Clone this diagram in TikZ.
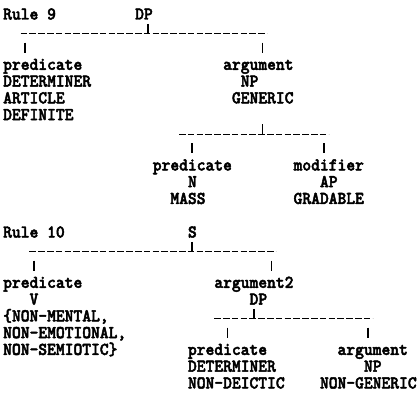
\documentclass[tikz,border=0pt]{standalone}
\usepackage{fontspec}
\newfontfamily\ttheavy{lmmonolt10-bold.otf}[FakeBold=2.5,FakeStretch=0.93]
\def\colw{8.8}
\def\lineh{16.77}
\newcommand\colx[1]{3+\colw*(#1)}
\newcommand\baseY[1]{19.5+\lineh*(#1)}
\newcommand\midY[1]{14+\lineh*(#1)}
\begin{document}
\begin{tikzpicture}[x=1pt,y=-1pt,
  lbl/.style={anchor=base west,inner sep=0pt,font=\ttheavy\fontsize{18}{19}\selectfont},
  bar/.style={line width=1.7pt},
  rowline/.style={line width=1.2pt,dash pattern=on 6.6pt off 2.2pt}]
\useasboundingbox (0,0) rectangle (419,420);
% ---------------- Rule 9 ----------------
\node[lbl] (r9)   at ({\colx{0}},{\baseY{0}})  {Rule 9};
\node[lbl] (dpa)  at ({\colx{15}},{\baseY{0}}) {DP};
\node[lbl] (preda) at ({\colx{0}},{\baseY{3}}) {predicate};
\node[lbl] (deta) at ({\colx{0}},{\baseY{4}})  {DETERMINER};
\node[lbl] (arta) at ({\colx{0}},{\baseY{5}})  {ARTICLE};
\node[lbl] (defa) at ({\colx{0}},{\baseY{6}})  {DEFINITE};
\node[lbl] (arga) at ({\colx{25}},{\baseY{3}}) {argument};
\node[lbl] (npa)  at ({\colx{27}},{\baseY{4}}) {NP};
\node[lbl] (gena) at ({\colx{26}},{\baseY{5}}) {GENERIC};
\node[lbl] (predb) at ({\colx{17}},{\baseY{9}}) {predicate};
\node[lbl] (nb)   at ({\colx{21}},{\baseY{10}}) {N};
\node[lbl] (massb) at ({\colx{19}},{\baseY{11}}) {MASS};
\node[lbl] (modb) at ({\colx{33}},{\baseY{9}}) {modifier};
\node[lbl] (apb)  at ({\colx{36}},{\baseY{10}}) {AP};
\node[lbl] (gradb) at ({\colx{33}},{\baseY{11}}) {GRADABLE};
% connectors, Rule 9
\coordinate (h1a) at ({\colx{2}},{\midY{1}+3});
\coordinate (h1b) at ({\colx{30}},{\midY{1}+3});
\draw[rowline] (h1a) -- (h1b);
\coordinate (b1t) at ({\colx{16.5}},{\midY{1}-7});
\coordinate (b1b) at ({\colx{16.5}},{\midY{1}+3});
\draw[bar] (b1t) -- (b1b);
\coordinate (t1at) at ({\colx{2.5}},{\midY{2}-5});
\coordinate (t1ab) at ({\colx{2.5}},{\midY{2}+5});
\draw[bar] (t1at) -- (t1ab);
\coordinate (t1bt) at ({\colx{29.5}},{\midY{2}-5});
\coordinate (t1bb) at ({\colx{29.5}},{\midY{2}+5});
\draw[bar] (t1bt) -- (t1bb);
\coordinate (h2a) at ({\colx{20}},{\midY{7}+3});
\coordinate (h2b) at ({\colx{37}},{\midY{7}+3});
\draw[rowline] (h2a) -- (h2b);
\coordinate (b2t) at ({\colx{29.5}},{\midY{7}-7});
\coordinate (b2b) at ({\colx{29.5}},{\midY{7}+3});
\draw[bar] (b2t) -- (b2b);
\coordinate (t2at) at ({\colx{21.5}},{\midY{8}-5});
\coordinate (t2ab) at ({\colx{21.5}},{\midY{8}+5});
\draw[bar] (t2at) -- (t2ab);
\coordinate (t2bt) at ({\colx{36.5}},{\midY{8}-5});
\coordinate (t2bb) at ({\colx{36.5}},{\midY{8}+5});
\draw[bar] (t2bt) -- (t2bb);
% ---------------- Rule 10 ----------------
\node[lbl] (r10)  at ({\colx{0}},{\baseY{13}}) {Rule 10};
\node[lbl] (sc)   at ({\colx{21}},{\baseY{13}}) {S};
\node[lbl] (predc) at ({\colx{0}},{\baseY{16}}) {predicate};
\node[lbl] (vc)   at ({\colx{3}},{\baseY{17}}) {V};
\node[lbl] (nmc)  at ({\colx{0}},{\baseY{18}}) {\{NON-MENTAL,};
\node[lbl] (nec)  at ({\colx{0}},{\baseY{19}}) {NON-EMOTIONAL,};
\node[lbl] (nsc)  at ({\colx{0}},{\baseY{20}}) {NON-SEMIOTIC\}};
\node[lbl] (argc) at ({\colx{24}},{\baseY{16}}) {argument2};
\node[lbl] (dpc)  at ({\colx{28}},{\baseY{17}}) {DP};
\node[lbl] (predd) at ({\colx{21}},{\baseY{20}}) {predicate};
\node[lbl] (detd) at ({\colx{21}},{\baseY{21}}) {DETERMINER};
\node[lbl] (ndd)  at ({\colx{21}},{\baseY{22}}) {NON-DEICTIC};
\node[lbl] (argd) at ({\colx{38}},{\baseY{20}}) {argument};
\node[lbl] (npd)  at ({\colx{41}},{\baseY{21}}) {NP};
\node[lbl] (ngd)  at ({\colx{36}},{\baseY{22}}) {NON-GENERIC};
% connectors, Rule 10
\coordinate (h3a) at ({\colx{3}},{\midY{14}+3});
\coordinate (h3b) at ({\colx{31}},{\midY{14}+3});
\draw[rowline] (h3a) -- (h3b);
\coordinate (b3t) at ({\colx{21.5}},{\midY{14}-7});
\coordinate (b3b) at ({\colx{21.5}},{\midY{14}+3});
\draw[bar] (b3t) -- (b3b);
\coordinate (t3at) at ({\colx{3.5}},{\midY{15}-5});
\coordinate (t3ab) at ({\colx{3.5}},{\midY{15}+5});
\draw[bar] (t3at) -- (t3ab);
\coordinate (t3bt) at ({\colx{30.5}},{\midY{15}-5});
\coordinate (t3bb) at ({\colx{30.5}},{\midY{15}+5});
\draw[bar] (t3bt) -- (t3bb);
\coordinate (h4a) at ({\colx{24}},{\midY{18}+3});
\coordinate (h4b) at ({\colx{42}},{\midY{18}+3});
\draw[rowline] (h4a) -- (h4b);
\coordinate (b4t) at ({\colx{28.5}},{\midY{18}-7});
\coordinate (b4b) at ({\colx{28.5}},{\midY{18}+3});
\draw[bar] (b4t) -- (b4b);
\coordinate (t4at) at ({\colx{25.5}},{\midY{19}-5});
\coordinate (t4ab) at ({\colx{25.5}},{\midY{19}+5});
\draw[bar] (t4at) -- (t4ab);
\coordinate (t4bt) at ({\colx{41.5}},{\midY{19}-5});
\coordinate (t4bb) at ({\colx{41.5}},{\midY{19}+5});
\draw[bar] (t4bt) -- (t4bb);
\end{tikzpicture}
\end{document}
